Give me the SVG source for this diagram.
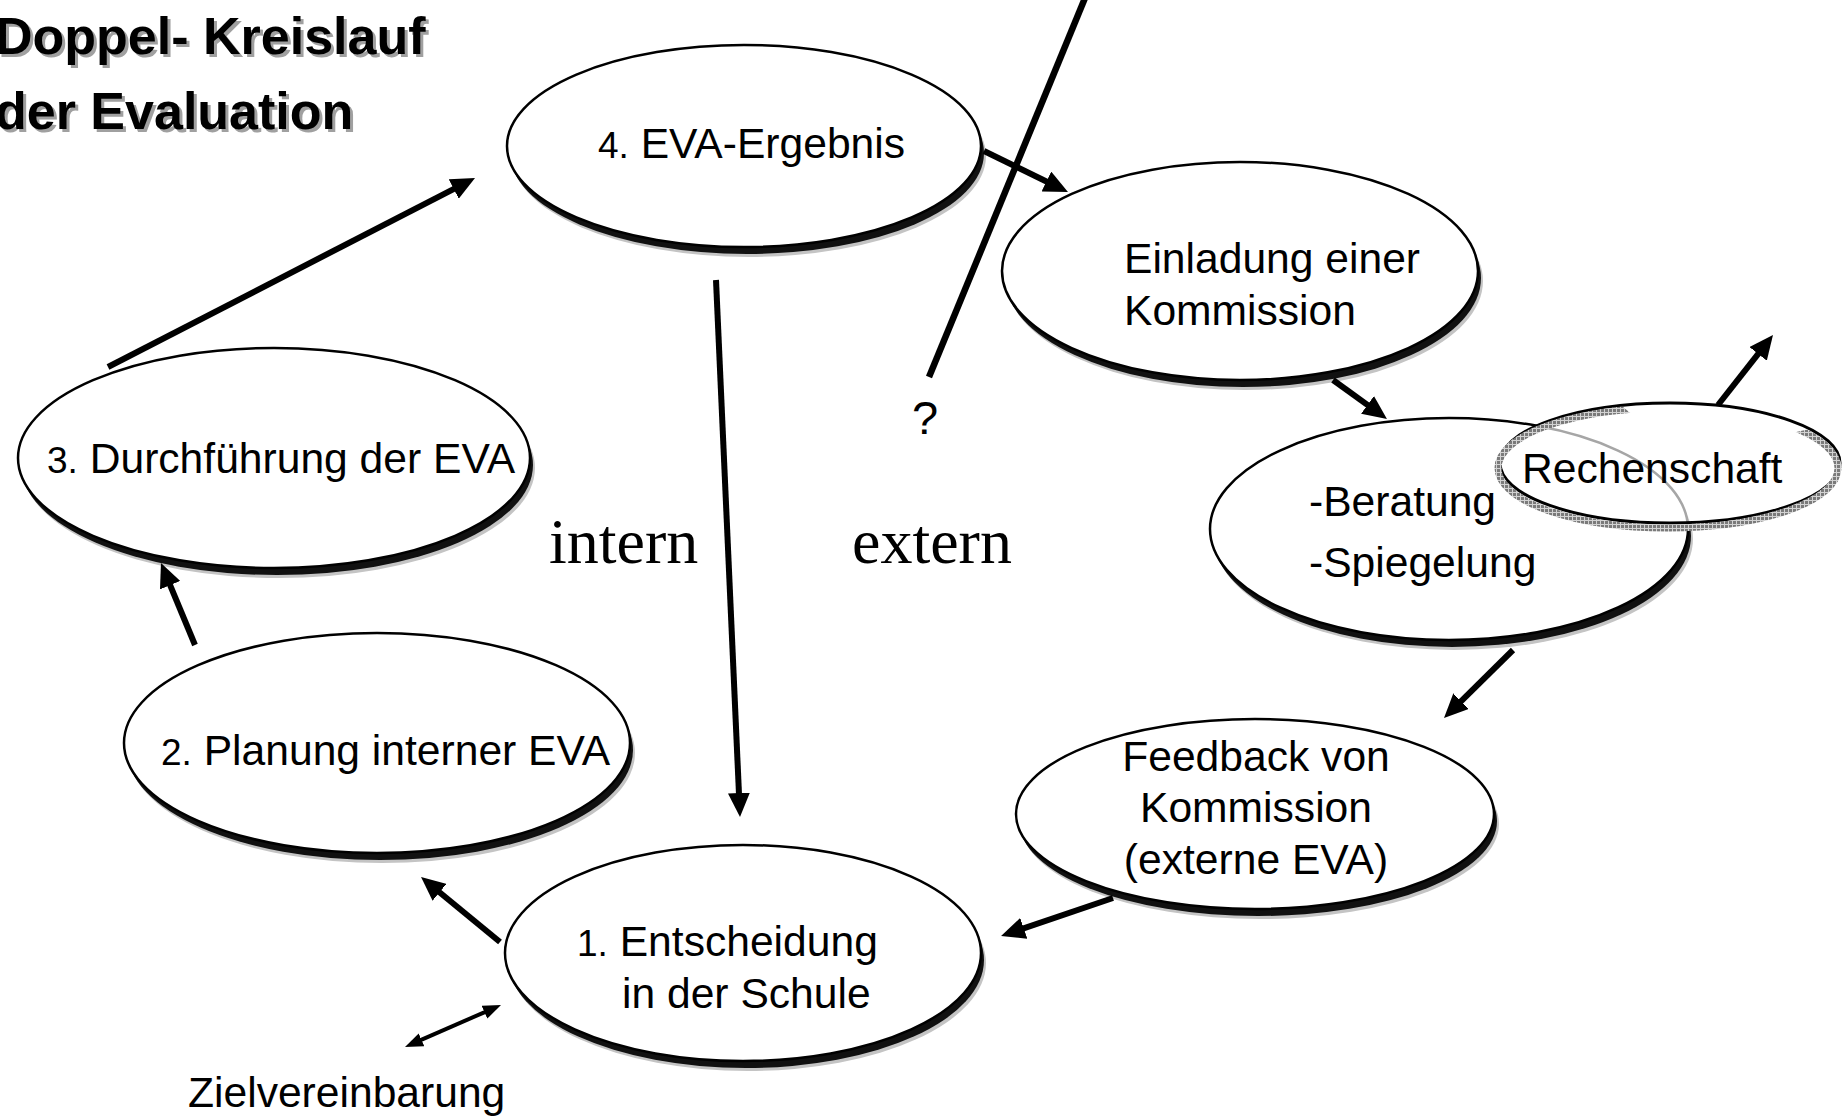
<svg xmlns="http://www.w3.org/2000/svg" width="1846" height="1120" viewBox="0 0 1846 1120">
  <style>
    .lbl { font-family: "Liberation Sans", Arial, sans-serif; font-size: 42.6px; fill: #000; }
    .num { font-size: 37px; }
    .ser { font-family: "Liberation Serif", "Times New Roman", serif; font-size: 64px; fill: #000; }
    .title { font-family: "Liberation Sans", Arial, sans-serif; font-size: 52px; font-weight: bold; }
    .fringe { fill: #c4c4c4; }
    .shade { fill: #111; }
    .body { fill: #fff; stroke: #000; stroke-width: 2.5; }
    .conn { stroke: #000; stroke-width: 6; fill: none; marker-end: url(#head); }
    .thin { stroke: #000; stroke-width: 4; fill: none; marker-start: url(#headS); marker-end: url(#headS); }
  </style>
  <defs>
    <marker id="head" markerUnits="userSpaceOnUse" markerWidth="24" markerHeight="22" refX="8" refY="11" orient="auto">
      <path d="M0,0 L24,11 L0,22 z" fill="#000"/>
    </marker>
    <marker id="headS" markerUnits="userSpaceOnUse" markerWidth="18" markerHeight="14" refX="6" refY="7" orient="auto-start-reverse">
      <path d="M0,0 L18,7 L0,14 z" fill="#000"/>
    </marker>
    <pattern id="mesh" patternUnits="userSpaceOnUse" width="4" height="4">
      <rect width="4" height="4" fill="#7a7a7a"/>
      <rect width="4" height="1" fill="#d2d2d2"/>
      <rect width="1" height="4" fill="#d2d2d2"/>
    </pattern>
    <clipPath id="lowerLeft">
      <polygon points="1480,380 1590,380 1700,470 1760,440 1850,420 1850,545 1480,545"/>
    </clipPath>
  </defs>

  <rect width="1846" height="1120" fill="#fff"/>

  <!-- heading with soft drop shadow -->
  <g id="title">
    <text class="title" x="-2" y="57" fill="#a0a0a0">Doppel- Kreislauf</text>
    <text class="title" x="-2" y="132" fill="#a0a0a0">der Evaluation</text>
    <text class="title" x="-5" y="54" fill="#000">Doppel- Kreislauf</text>
    <text class="title" x="-5" y="129" fill="#000">der Evaluation</text>
  </g>

  <g id="node-ergebnis">
    <ellipse class="fringe" cx="749" cy="156" rx="237" ry="101"/>
    <ellipse class="shade" cx="747" cy="153" rx="237" ry="101"/>
    <ellipse class="body" cx="744" cy="146" rx="237" ry="101"/>
    <text class="lbl" x="598" y="158"><tspan class="num">4.</tspan> EVA-Ergebnis</text>
  </g>

  <g id="node-durchfuehrung">
    <ellipse class="fringe" cx="279" cy="468" rx="256" ry="110"/>
    <ellipse class="shade" cx="277" cy="465" rx="256" ry="110"/>
    <ellipse class="body" cx="274" cy="458" rx="256" ry="110"/>
    <text class="lbl" x="47" y="473"><tspan class="num">3.</tspan> Durchführung der EVA</text>
  </g>

  <g id="node-planung">
    <ellipse class="fringe" cx="382" cy="753" rx="253" ry="110"/>
    <ellipse class="shade" cx="380" cy="750" rx="253" ry="110"/>
    <ellipse class="body" cx="377" cy="743" rx="253" ry="110"/>
    <text class="lbl" x="161" y="765"><tspan class="num">2.</tspan> Planung interner EVA</text>
  </g>

  <g id="node-entscheidung">
    <ellipse class="fringe" cx="748" cy="963" rx="238" ry="108"/>
    <ellipse class="shade" cx="746" cy="960" rx="238" ry="108"/>
    <ellipse class="body" cx="743" cy="953" rx="238" ry="108"/>
    <text class="lbl" x="577" y="956"><tspan class="num">1.</tspan> Entscheidung</text>
    <text class="lbl" x="622" y="1008">in der Schule</text>
  </g>

  <g id="node-einladung">
    <ellipse class="fringe" cx="1245" cy="281" rx="238" ry="109"/>
    <ellipse class="shade" cx="1243" cy="278" rx="238" ry="109"/>
    <ellipse class="body" cx="1240" cy="271" rx="238" ry="109"/>
    <text class="lbl" x="1124" y="273">Einladung einer</text>
    <text class="lbl" x="1124" y="325">Kommission</text>
  </g>

  <g id="node-beratung">
    <ellipse class="fringe" cx="1454" cy="539" rx="239" ry="111"/>
    <ellipse class="shade" cx="1452" cy="536" rx="239" ry="111"/>
    <ellipse class="body" cx="1449" cy="529" rx="239" ry="111"/>
    <text class="lbl" x="1309" y="516">-Beratung</text>
    <text class="lbl" x="1309" y="577">-Spiegelung</text>
  </g>

  <g id="node-rechenschaft">
    <ellipse cx="1670" cy="463" rx="170" ry="60" fill="#fff" fill-opacity="0.65" stroke="#000" stroke-width="3"/>
    <ellipse cx="1668" cy="468" rx="170" ry="60" fill="none" stroke="url(#mesh)" stroke-width="7" clip-path="url(#lowerLeft)"/>
    <text class="lbl" x="1522" y="483">Rechenschaft</text>
  </g>

  <g id="node-feedback">
    <ellipse class="fringe" cx="1260" cy="824" rx="239" ry="95"/>
    <ellipse class="shade" cx="1258" cy="821" rx="239" ry="95"/>
    <ellipse class="body" cx="1255" cy="814" rx="239" ry="95"/>
    <text class="lbl" x="1256" y="771" text-anchor="middle">Feedback von</text>
    <text class="lbl" x="1256" y="822" text-anchor="middle">Kommission</text>
    <text class="lbl" x="1256" y="874" text-anchor="middle">(externe EVA)</text>
  </g>

  <g id="labels">
    <text class="ser" x="549" y="563">intern</text>
    <text class="ser" x="852" y="563">extern</text>
    <text class="lbl" x="912" y="434" style="font-size:47px">?</text>
    <text class="lbl" x="188" y="1107">Zielvereinbarung</text>
  </g>

  <g id="connectors">
    <line class="conn" x1="108" y1="367" x2="460.8" y2="185.3"/>
    <line class="conn" x1="195" y1="645" x2="167.1" y2="577.8"/>
    <line class="conn" x1="500" y1="942" x2="433.4" y2="887.2"/>
    <line class="conn" x1="716" y1="280" x2="739.3" y2="801"/>
    <line class="conn" x1="984" y1="151" x2="1053.6" y2="185"/>
    <line class="conn" x1="1333" y1="380" x2="1374" y2="409.6"/>
    <line class="conn" x1="1718" y1="405" x2="1763.1" y2="347.6"/>
    <line class="conn" x1="1513" y1="650" x2="1455.4" y2="706.8"/>
    <line class="conn" x1="1113" y1="898" x2="1016.2" y2="930.9"/>
    <line class="thin" x1="416" y1="1042.2" x2="490" y2="1009.8"/>
    <!-- divider between internal and external loop -->
    <line x1="1085" y1="-2" x2="929" y2="377" stroke="#000" stroke-width="6.5"/>
  </g>
</svg>
